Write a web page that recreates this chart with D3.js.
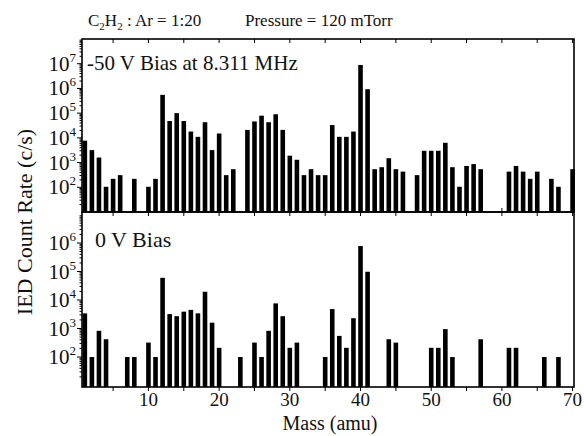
<!DOCTYPE html>
<html>
<head>
<meta charset="utf-8">
<script src="https://cdn.jsdelivr.net/npm/d3@7/dist/d3.min.js"></script>
<style>
  body { margin: 0; background: #fff; }
  svg text { font-family: "Liberation Serif", "DejaVu Serif", serif; fill: #111; }
</style>
</head>
<body>
<svg id="chart" width="584" height="436"></svg>
<script>
// mass (amu) and count rates (c/s)
let massBias = [1,2,3,4,5,6,8,10,11,12,13,14,15,16,17,18,19,20,21,22,24,25,26,27,28,29,30,31,32,33,34,35,36,37,38,39,40,41,42,43,44,45,46,48,49,50,51,52,53,54,55,56,57,61,62,63,64,65,67,68,70];
let rateBias = [7.7e3,3.2e3,1.6e3,1.05e2,2.2e2,3.1e2,2.2e2,1.05e2,2.2e2,5.5e5,4.8e4,1e5,4.8e4,1.8e4,1.1e4,4.3e4,3.2e3,1.5e4,3.1e2,5.4e2,2.1e4,4.6e4,7.9e4,4.3e4,9e4,2.1e4,1.9e3,1.3e3,3.1e2,5.4e2,3.1e2,3.1e2,3.3e4,1.1e4,1.1e4,1.8e4,8.9e6,9.3e5,5.4e2,6.5e2,1.5e3,5.4e2,4.3e2,3.1e2,3e3,3e3,3e3,6.3e3,6.5e2,1.05e2,7.3e2,8.7e2,5.4e2,4.3e2,7.3e2,4.3e2,2.2e2,4.3e2,2.2e2,1.05e2,5.4e2];

let massZero = [1,2,3,4,7,8,10,11,12,13,14,15,16,17,18,19,20,23,25,26,27,28,29,30,31,35,36,37,38,39,40,41,44,45,50,51,52,53,57,61,62,66,68];
let rateZero = [3.4e3,1e2,8.3e2,4.2e2,1e2,1e2,3.2e2,1e2,6e4,3.2e3,2.7e3,3.9e3,4.5e3,3.4e3,1.95e4,1.6e3,2.1e2,1e2,3.2e2,1e2,8.3e2,7.6e3,2.7e3,2.1e2,3.2e2,1e2,4.8e3,5.5e2,2.1e2,2.3e3,7.8e5,9.8e4,4.2e2,3.2e2,2.1e2,2.1e2,9.5e2,1e2,4.2e2,2.1e2,2.1e2,1e2,1e2];

let xTickLabels = [10,20,30,40,50,60,70];
let expBias = [2,3,4,5,6,7];
let expZero = [2,3,4,5,6];

var svg = d3.select("#chart");
var left = 82, right = 574;

var x = d3.scaleLinear().domain([0.6, 70.2]).range([left, right]);

var panels = [
  { top: 39, bottom: 212, y: d3.scaleLog().domain([10, 1e8]).range([212, 39]),
    mass: massBias, rate: rateBias, exps: expBias, label: "-50 V Bias at 8.311 MHz", ly: 70, lx: 87 },
  { top: 212, bottom: 387, y: d3.scaleLog().domain([10, 1e7]).range([385.5, 214.5]),
    mass: massZero, rate: rateZero, exps: expZero, label: "0 V Bias", ly: 247, lx: 95 }
];

var barW = 4.6;

panels.forEach(function(p, pi) {
  var g = svg.append("g");
  var data = p.mass.map(function(m, i) { return { m: m, v: p.rate[i] }; });

  g.selectAll("rect.bar")
    .data(data)
    .enter()
    .append("rect")
    .attr("class", "bar")
    .attr("x", function(d) { return x(d.m) - barW / 2; })
    .attr("y", function(d) { return p.y(d.v); })
    .attr("width", barW)
    .attr("height", function(d) { return p.bottom - p.y(d.v); })
    .attr("fill", "#000");

  // minor + major y ticks on the left
  var yt = [];
  var dom = p.y.domain();
  for (var e = 1; e < Math.log10(dom[1]); e++) {
    for (var k = 1; k < 10; k++) {
      var v = k * Math.pow(10, e);
      if (v > dom[0] && v < dom[1]) yt.push({ v: v, major: k == 1 });
    }
  }
  g.selectAll("line.yt")
    .data(yt)
    .enter()
    .append("line")
    .attr("x1", function(d) { return left - (d.major ? 5 : 2.5); })
    .attr("x2", left)
    .attr("y1", function(d) { return p.y(d.v); })
    .attr("y2", function(d) { return p.y(d.v); })
    .attr("stroke", "#000")
    .attr("stroke-width", 1);

  // decade labels with superscripts
  var lab = g.selectAll("text.yl")
    .data(p.exps)
    .enter()
    .append("text")
    .attr("x", left - 6)
    .attr("y", function(d) { return p.y(Math.pow(10, d)) + 7; })
    .attr("text-anchor", "end")
    .attr("font-size", 21);
  lab.append("tspan").text("10");
  lab.append("tspan").attr("font-size", 13).attr("dy", -9).text(function(d) { return d; });

  // x ticks every 5 amu
  var xt = d3.range(5, 71, 5);
  g.selectAll("line.xt")
    .data(xt)
    .enter()
    .append("line")
    .attr("x1", function(d) { return x(d); })
    .attr("x2", function(d) { return x(d); })
    .attr("y1", p.top)
    .attr("y2", p.top + 4)
    .attr("stroke", "#000");
  g.selectAll("line.xb")
    .data(xt)
    .enter()
    .append("line")
    .attr("x1", function(d) { return x(d); })
    .attr("x2", function(d) { return x(d); })
    .attr("y1", p.bottom)
    .attr("y2", p.bottom + (pi == 1 ? 4 : -4))
    .attr("stroke", "#000");

  g.append("rect")
    .attr("x", left)
    .attr("y", p.top)
    .attr("width", right - left)
    .attr("height", p.bottom - p.top)
    .attr("fill", "none")
    .attr("stroke", "#000")
    .attr("stroke-width", 1.6);

  g.append("text")
    .attr("x", p.lx)
    .attr("y", p.ly)
    .attr("font-size", pi == 0 ? 21 : 22)
    .text(p.label);
});

// bottom axis labels
svg.selectAll("text.xl")
  .data(xTickLabels)
  .enter()
  .append("text")
  .attr("x", function(d) { return x(d); })
  .attr("y", 406)
  .attr("text-anchor", "middle")
  .attr("font-size", 19)
  .text(function(d) { return d; });

svg.append("text")
  .attr("x", 330)
  .attr("y", 430)
  .attr("text-anchor", "middle")
  .attr("font-size", 20)
  .text("Mass (amu)");

svg.append("text")
  .attr("transform", "translate(32,222) rotate(-90)")
  .attr("text-anchor", "middle")
  .attr("font-size", 22)
  .text("IED Count Rate (c/s)");

// header line
var h1 = svg.append("text").attr("x", 88).attr("y", 26).attr("font-size", 17);
h1.append("tspan").text("C");
h1.append("tspan").attr("font-size", 11).attr("dy", 4).text("2");
h1.append("tspan").attr("dy", -4).text("H");
h1.append("tspan").attr("font-size", 11).attr("dy", 4).text("2");
h1.append("tspan").attr("dy", -4).text(" : Ar  = 1:20");

svg.append("text")
  .attr("x", 245)
  .attr("y", 26)
  .attr("font-size", 17)
  .text("Pressure = 120 mTorr");
</script>
</body>
</html>
